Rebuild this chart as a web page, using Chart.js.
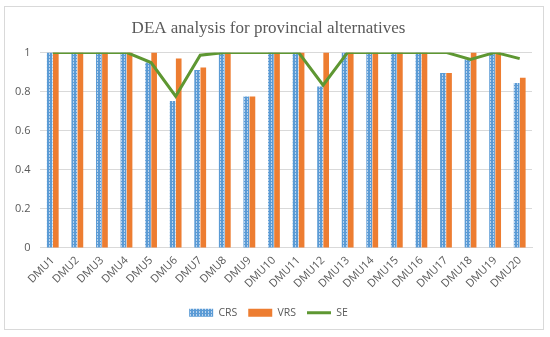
<!DOCTYPE html>
<html>
<head>
<meta charset="utf-8">
<script src="https://cdn.jsdelivr.net/npm/chart.js@4/dist/chart.umd.min.js"></script>
<style>
html,body{margin:0;padding:0;background:#fff;}
#wrap{position:absolute;left:0;top:0;width:550px;height:337px;}
#frame{position:absolute;left:4px;top:6px;width:538px;height:322px;border:1px solid #D9D9D9;pointer-events:none;}
</style>
</head>
<body>
<div id="wrap"><canvas id="c" width="550" height="337"></canvas></div>
<div id="frame"></div>
<script>
const categories = ["DMU1","DMU2","DMU3","DMU4","DMU5","DMU6","DMU7","DMU8","DMU9","DMU10","DMU11","DMU12","DMU13","DMU14","DMU15","DMU16","DMU17","DMU18","DMU19","DMU20"];
const crs = [1,1,1,1,0.948,0.752,0.91,1,0.775,1,1,0.826,1,1,1,1,0.895,0.964,1,0.844];
const vrs = [1,1,1,1,1,0.969,0.923,1,0.775,1,1,1,1,1,1,1,0.895,1,1,0.87];
const se  = [1,1,1,1,0.948,0.776,0.986,1,1,1,1,0.832,1,1,1,1,1,0.964,1,0.968];
const yTicks = [0,0.2,0.4,0.6,0.8,1];

function makePattern(){
  const p = document.createElement('canvas');
  p.width = 3; p.height = 3;
  const g = p.getContext('2d');
  g.fillStyle = '#5B9BD5'; g.fillRect(0,0,3,3);
  g.fillStyle = '#B8D3EE';
  g.fillRect(1,0,1,1); g.fillRect(1,2,1,1);
  return document.getElementById('c').getContext('2d').createPattern(p,'repeat');
}
const crsFill = makePattern();
const tickFont = {family:"'Open Sans', 'Liberation Sans', sans-serif", size:11};
const legendFont = {family:"'Open Sans', 'Liberation Sans', sans-serif", size:10.5};

new Chart(document.getElementById('c'), {
  data: {
    labels: categories,
    datasets: [
      {type:'bar', label:'CRS', data:crs, backgroundColor:crsFill, borderWidth:0, order:1, pointStyle:'rect',
       categoryPercentage:0.5, barPercentage:0.92},
      {type:'bar', label:'VRS', data:vrs, backgroundColor:'#ED7D31', borderWidth:0, order:1, pointStyle:'rect',
       categoryPercentage:0.5, barPercentage:0.92},
      {type:'line', label:'SE', data:se, borderColor:'#5E9732', backgroundColor:'#5E9732', borderWidth:3,
       pointRadius:0, pointStyle:'line', tension:0, order:0}
    ]
  },
  options: {
    responsive:false, animation:false,
    layout:{padding:{left:5, right:18, top:10, bottom:9}},
    plugins:{
      title:{display:true, text:'DEA analysis for provincial alternatives', color:'#595959',
        font:{family:"'Liberation Serif', 'Times New Roman', serif", size:17, weight:'normal'},
        padding:{top:8, bottom:14}},
      legend:{position:'bottom',
        labels:{sort:(a,b)=>a.datasetIndex-b.datasetIndex, usePointStyle:true, pointStyleWidth:24, boxHeight:8,
          color:'#595959', font:legendFont, padding:11}},
      tooltip:{enabled:false}
    },
    scales:{
      x:{grid:{display:false, drawTicks:false}, border:{color:'#D9D9D9'},
        ticks:{color:'#595959', font:tickFont, minRotation:45, maxRotation:45, padding:6}},
      y:{min:0, max:1, afterBuildTicks:(s)=>{s.ticks = yTicks.map(v=>({value:v}));},
        grid:{color:'#D9D9D9', drawTicks:false}, border:{display:false},
        ticks:{color:'#595959', font:tickFont, padding:10, callback:(v)=>String(v)}}
    }
  }
});
</script>
</body>
</html>
